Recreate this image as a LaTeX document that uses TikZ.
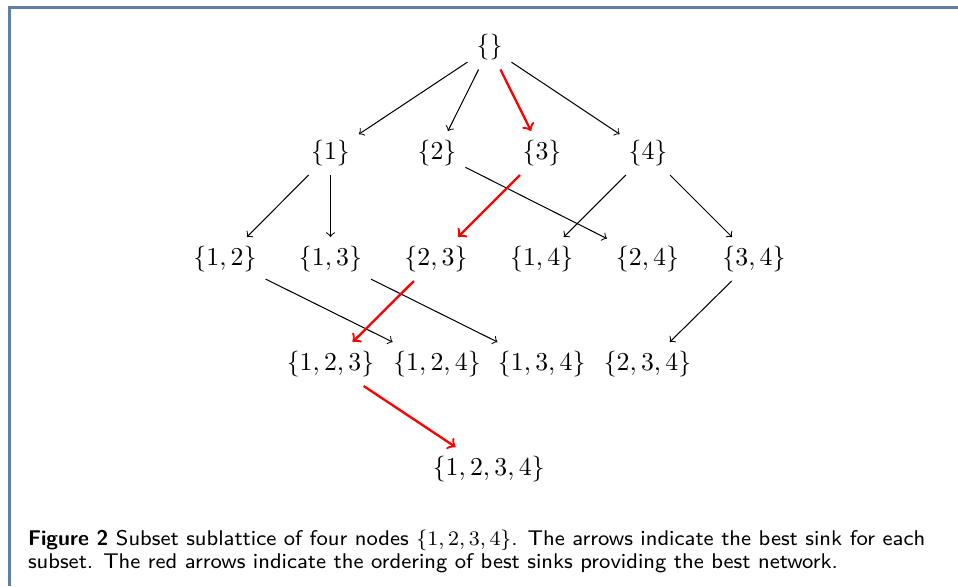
\documentclass[tikz,border=0pt]{standalone}
\usepackage{amsmath}
\definecolor{framecol}{RGB}{96,126,166}
\begin{document}
\begin{tikzpicture}[x=0.3876pt,y=-0.3876pt,
  setnode/.style={inner sep=0.333em},
  arr/.style={->,line width=0.4pt},
  redarr/.style={->,red,line width=0.9pt}]
\useasboundingbox (0,0) rectangle (958,586);
\draw[framecol,line width=0.8pt] (9.5,586) -- (9.5,7.5) -- (958,7.5);
% row 0
\node[setnode] (e) at (489.5,47.5) {$\{\}$};
% row 1
\node[setnode] (n1) at (330.5,153) {$\{1\}$};
\node[setnode] (n2) at (437,153) {$\{2\}$};
\node[setnode] (n3) at (542,153) {$\{3\}$};
\node[setnode] (n4) at (648,153) {$\{4\}$};
% row 2
\node[setnode] (n12) at (225,259) {$\{1,2\}$};
\node[setnode] (n13) at (330.5,259) {$\{1,3\}$};
\node[setnode] (n23) at (436,259) {$\{2,3\}$};
\node[setnode] (n14) at (541.7,259) {$\{1,4\}$};
\node[setnode] (n24) at (647.5,259) {$\{2,4\}$};
\node[setnode] (n34) at (754,259) {$\{3,4\}$};
% row 3
\node[setnode] (n123) at (330.5,364) {$\{1,2,3\}$};
\node[setnode] (n124) at (437,364) {$\{1,2,4\}$};
\node[setnode] (n134) at (541.7,364) {$\{1,3,4\}$};
\node[setnode] (n234) at (647.5,364) {$\{2,3,4\}$};
% row 4
\node[setnode] (n1234) at (488.7,469) {$\{1,2,3,4\}$};
% edges
\draw[arr] (e) -- (n1);
\draw[arr] (e) -- (n2);
\draw[redarr] (e) -- (n3);
\draw[arr] (e) -- (n4);
\draw[arr] (n1) -- (n12);
\draw[arr] (n1) -- (n13);
\draw[arr] (n2) -- (n24);
\draw[redarr] (n3) -- (n23);
\draw[arr] (n4) -- (n14);
\draw[arr] (n4) -- (n34);
\draw[arr] (n12) -- (n124);
\draw[arr] (n13) -- (n134);
\draw[redarr] (n23) -- (n123);
\draw[arr] (n34) -- (n234);
\draw[redarr] (n123) -- (n1234);
% caption
\node[anchor=base west,inner sep=0pt,align=left,font=\sffamily\fontsize{8.25}{8.8}\selectfont] (cap) at (27.5,568.3)
  {\textbf{Figure 2} Subset sublattice of four nodes $\{1,2,3,4\}$. The arrows indicate the best sink for each\\
   subset. The red arrows indicate the ordering of best sinks providing the best network.};
\end{tikzpicture}
\end{document}
